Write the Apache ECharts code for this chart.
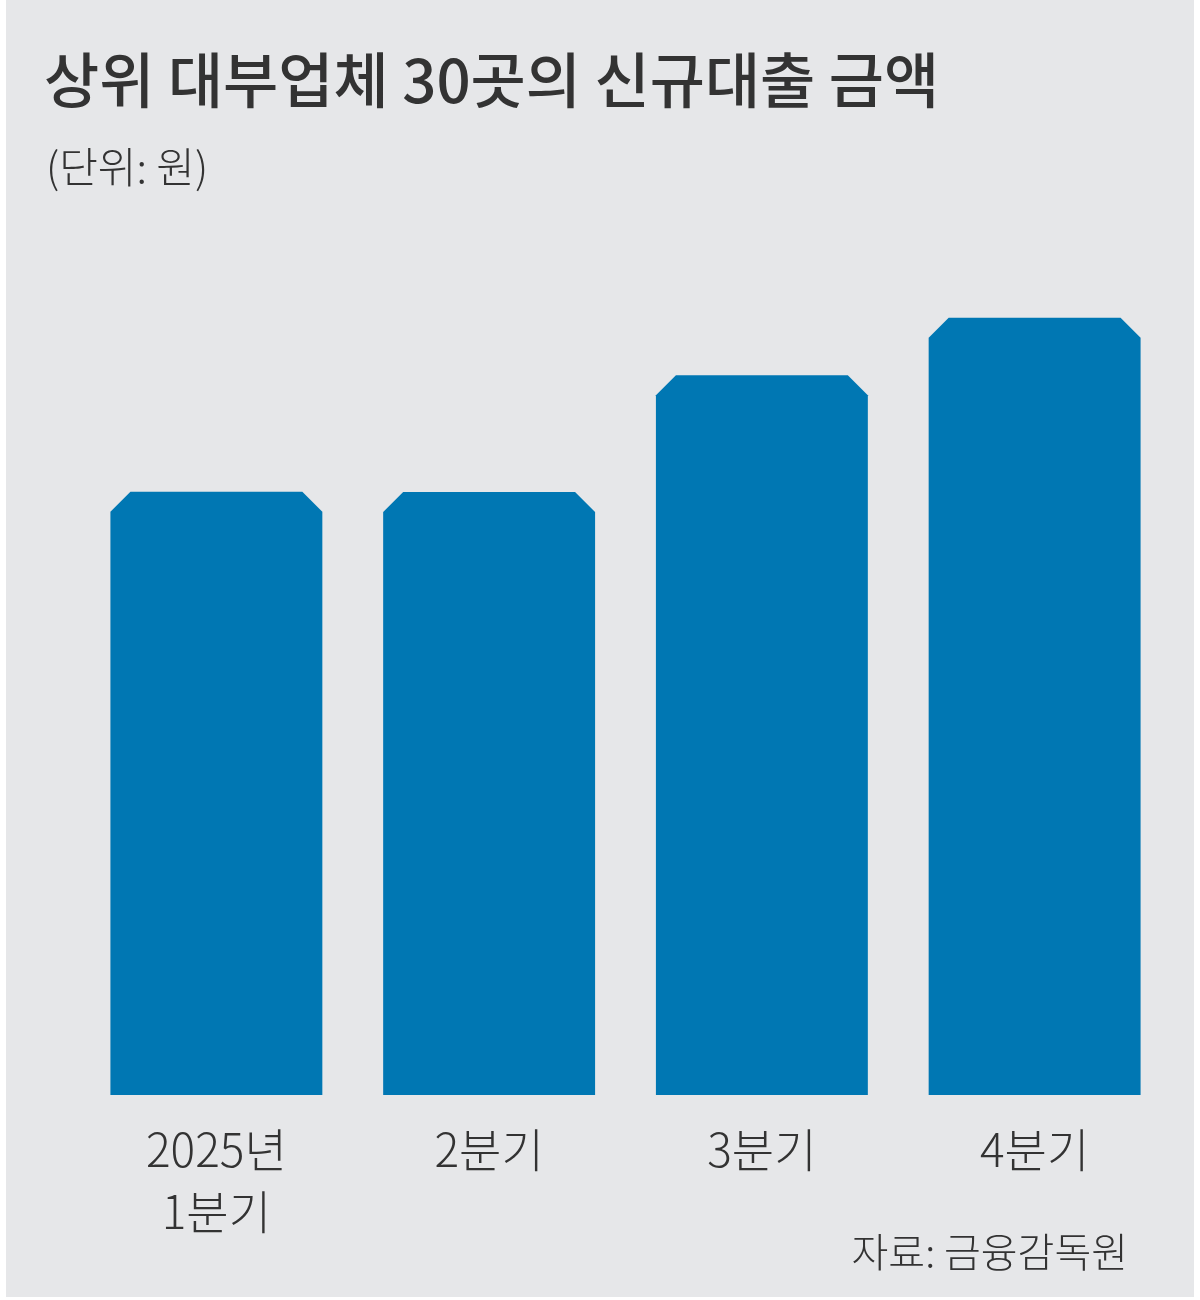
<!DOCTYPE html>
<html>
<head>
<meta charset="UTF-8">
<title></title>
<style>
  html, body { margin: 0; padding: 0; background: #ffffff; }
  #container { width: 1200px; height: 1300px; }
</style>
</head>
<body>
<div id="container"></div>
<script src="https://cdn.jsdelivr.net/npm/echarts@6/dist/echarts.min.js"></script>
<script>
var quarters = ['2025년\n1분기', '2분기', '3분기', '4분기'];
var loans = [6174, 6171, 7366, 7955]; // 억 원
var FONT = '"Noto Sans CJK KR", "Noto Sans", sans-serif';

var myChart = echarts.init(document.getElementById('container'));

// bar with chamfered top corners
function renderBar(params, api) {
  var x = api.value(0);
  var top = api.coord([x, api.value(1)]);
  var base = api.coord([x, 0]);
  var w = api.size([1, 0])[0] * 0.777;
  var l = top[0] - w / 2, r = top[0] + w / 2, c = 20;
  return {
    type: 'polygon',
    shape: { points: [[l, base[1]], [l, top[1] + c], [l + c, top[1]], [r - c, top[1]], [r, top[1] + c], [r, base[1]]] },
    style: { fill: '#0077b3' }
  };
}

myChart.setOption({
  animation: false,
  graphic: [
    { type: 'rect', left: 6, top: 0, shape: { width: 1188, height: 1297 }, style: { fill: '#e6e7e9' }, z: -10 },
    { type: 'text', left: 44, top: 50, style: { text: '상위 대부업체 30곳의 신규대출 금액', font: '500 60px ' + FONT, fill: '#333333' } },
    { type: 'text', left: 46, top: 146, style: { text: '(단위: 원)', font: '300 42px ' + FONT, fill: '#333333' } },
    { type: 'text', right: 72, top: 1232, style: { text: '자료: 금융감독원', font: '300 40px ' + FONT, fill: '#333333', align: 'right' } }
  ],
  grid: { left: 80, right: 29, top: 245, bottom: 205 },
  xAxis: {
    type: 'category',
    data: quarters,
    axisLine: { show: false },
    axisTick: { show: false },
    axisLabel: { margin: 24, fontFamily: FONT, fontSize: 46, fontWeight: 300, color: '#333333', lineHeight: 62, verticalAlign: 'top' }
  },
  yAxis: { type: 'value', min: 0, max: 8700, show: false, splitLine: { show: false } },
  series: [{
    type: 'custom',
    renderItem: renderBar,
    data: loans.map(function (v, i) { return [i, v]; }),
    encode: { x: 0, y: 1 },
    label: {
      show: true,
      position: 'top',
      distance: 6,
      formatter: function (p) { return p.value[1] + '억'; },
      fontFamily: FONT,
      fontSize: 64,
      fontWeight: 500,
      color: '#0077b3'
    }
  }]
});
</script>
</body>
</html>
